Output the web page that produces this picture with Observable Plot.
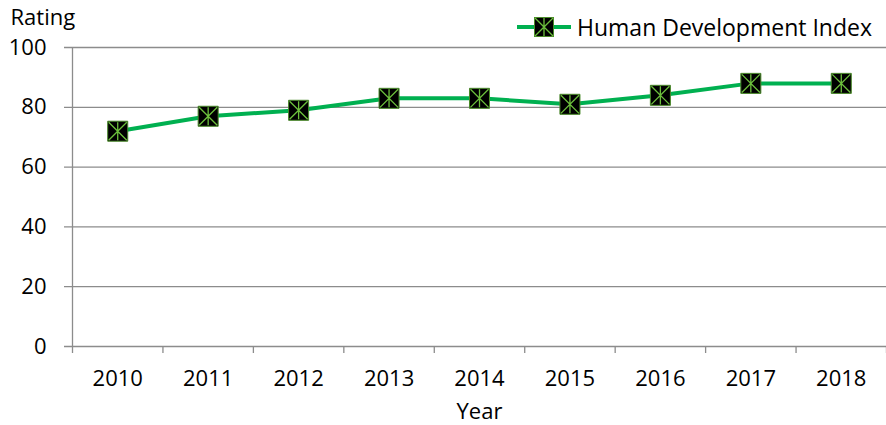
<!DOCTYPE html>
<html>
<head>
<meta charset="utf-8">
<script src="https://cdn.jsdelivr.net/npm/d3@7"></script>
<script src="https://cdn.jsdelivr.net/npm/@observablehq/plot@0.6"></script>
<style>
  html, body { margin: 0; padding: 0; background: #fff; }
  #wrap { position: relative; width: 886px; height: 425px; font-family: "Open Sans", sans-serif; }
  #legend { position: absolute; top: 11px; left: 516px; display: flex; align-items: center; font-size: 23px; color: #000; line-height: 32px; }
  #legend svg { margin-right: 5px; }
</style>
</head>
<body>
<div id="wrap"></div>
<script>
const years = ["2010", "2011", "2012", "2013", "2014", "2015", "2016", "2017", "2018"];
const hdi = [72, 77, 79, 83, 83, 81, 84, 88, 88];
const yTicks = [0, 20, 40, 60, 80, 100];
const seriesName = "Human Development Index";
const yTitle = "Rating";
const xTitle = "Year";

const data = years.map((y, i) => ({year: y, pos: i + 0.5, value: hdi[i]}));

const lineColor = "#00b050";
const starColor = "#6cbf3c";
const gridColor = "#8c8c8c";

const squareSymbol = {
  draw(ctx, size) {
    const h = Math.sqrt(size) / 2;
    ctx.moveTo(-h, -h); ctx.lineTo(h, -h); ctx.lineTo(h, h); ctx.lineTo(-h, h); ctx.closePath();
  }
};
const starSymbol = {
  draw(ctx, size) {
    const h = Math.sqrt(size) / 2;
    ctx.moveTo(-h, -h); ctx.lineTo(h, h);
    ctx.moveTo(h, -h); ctx.lineTo(-h, h);
    ctx.moveTo(0, -h); ctx.lineTo(0, h);
  }
};

const chart = Plot.plot({
  width: 886,
  height: 425,
  marginLeft: 72,
  marginRight: 0,
  marginTop: 47,
  marginBottom: 79,
  style: {fontFamily: "Open Sans, sans-serif", fontSize: "22px", color: "#000", background: "#fff", overflow: "visible"},
  x: {type: "linear", domain: [0, years.length]},
  y: {domain: [0, 100]},
  marks: [
    Plot.ruleY(yTicks, {stroke: gridColor, strokeWidth: 1.3, x1: 0, x2: years.length, insetLeft: -8}),
    Plot.ruleX([0], {stroke: gridColor, strokeWidth: 1.3}),
    Plot.axisX({ticks: d3.range(years.length + 1), tickFormat: () => "", tickSize: 7, stroke: gridColor, strokeWidth: 1.3, label: null}),
    Plot.axisX({ticks: d3.range(years.length).map(i => i + 0.5), tickSize: 0, tickPadding: 24, tickFormat: i => years[Math.floor(i)], fontSize: 22, label: null}),
    Plot.axisY({ticks: yTicks, tickSize: 0, tickPadding: 26, fontSize: 22, label: null}),
    Plot.text([yTitle], {frameAnchor: "top-left", dx: -62, dy: -38, fontSize: 22, textAnchor: "start"}),
    Plot.text([xTitle], {frameAnchor: "bottom", dy: 72, fontSize: 22}),
    Plot.line(data, {x: "pos", y: "value", stroke: lineColor, strokeWidth: 4}),
    Plot.dot(data, {x: "pos", y: "value", symbol: squareSymbol, r: 11.3, fill: "#000", stroke: "#4a8a2a", strokeWidth: 1}),
    Plot.dot(data, {x: "pos", y: "value", symbol: starSymbol, r: 10.2, fill: "none", stroke: starColor, strokeWidth: 1.3})
  ]
});

const wrap = document.getElementById("wrap");
wrap.appendChild(chart);

const legend = document.createElement("div");
legend.id = "legend";
legend.innerHTML = `<svg width="56" height="22" viewBox="0 0 56 22">
  <line x1="1" y1="11" x2="55" y2="11" stroke="${lineColor}" stroke-width="4"/>
  <rect x="18.5" y="1.5" width="19" height="19" fill="#000" stroke="#4a8a2a" stroke-width="1"/>
  <path d="M19 2L37 20M37 2L19 20M28 2L28 20" stroke="${starColor}" stroke-width="1.3"/>
</svg><span>${seriesName}</span>`;
wrap.appendChild(legend);
</script>
</body>
</html>
